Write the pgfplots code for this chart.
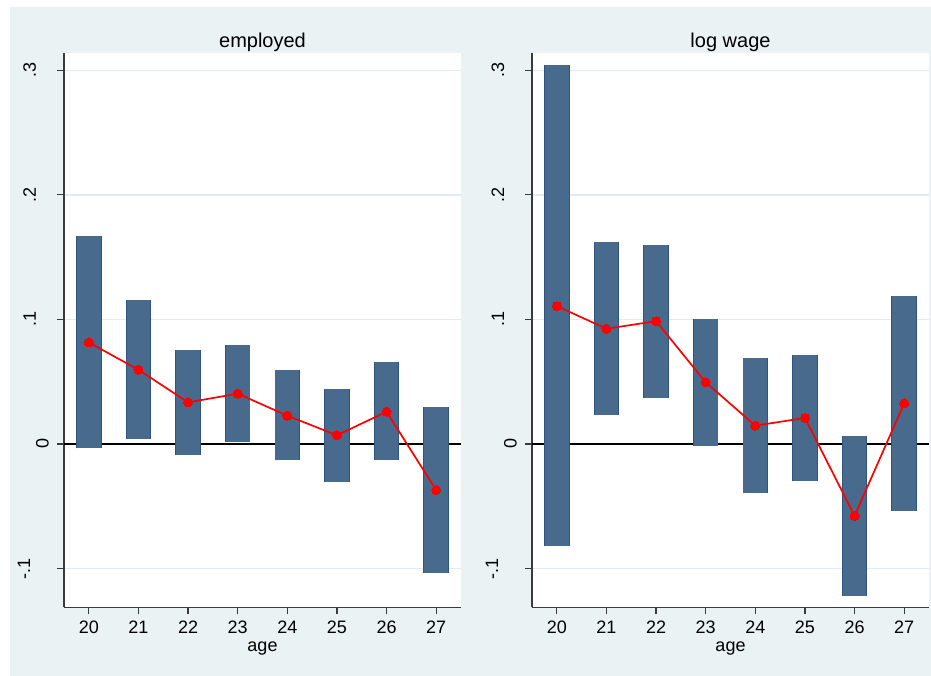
\documentclass[border=0pt]{standalone}
\usepackage{pgfplots}
\pgfplotsset{compat=1.18}
\usepackage{pgfplotstable}
\usepackage{fontspec}
\setmainfont{Liberation Sans}

\definecolor{bgc}{HTML}{EAF2F3}
\definecolor{gridc}{HTML}{E2EBF0}
\definecolor{barfill}{HTML}{476A8D}
\definecolor{baredge}{HTML}{2F5480}
\definecolor{axisc}{HTML}{3A3A3A}

% confidence bounds (lo, hi) and point estimate (b) by age
\pgfplotstableread{
age lo hi b
20 -0.0035 0.1668 0.0815
21 0.0037 0.1157 0.0596
22 -0.0091 0.0756 0.0334
23 0.0019 0.0794 0.0404
24 -0.0131 0.0591 0.0227
25 -0.0302 0.0444 0.0070
26 -0.0131 0.0658 0.0259
27 -0.1037 0.0297 -0.0371
}\employed

\pgfplotstableread{
age lo hi b
20 -0.0818 0.3045 0.1107
21 0.0233 0.1620 0.0925
22 0.0369 0.1601 0.0986
23 -0.0016 0.1000 0.0495
24 -0.0396 0.0690 0.0147
25 -0.0297 0.0711 0.0209
26 -0.1217 0.0067 -0.0577
27 -0.0537 0.1189 0.0326
}\logwage

\pgfplotsset{
  panel/.style={
    scale only axis, width=397pt, height=554.6pt,
    xmin=19.5, xmax=27.5, ymin=-0.1311, ymax=0.3141,
    axis x line*=bottom, axis y line*=left,
    axis line style={axisc, line width=1.2pt},
    xtick={20,...,27}, ytick={-0.1,0,0.1,0.2,0.3},
    yticklabels={\raisebox{6pt}{-.1},\raisebox{-12.5pt}{0},.1,.2,.3},
    tick align=outside, major tick length=7pt,
    major tick style={axisc, line width=1.2pt},
    ymajorgrids, grid style={gridc, line width=1.5pt},
    /pgf/number format/assume math mode=true,
    ticklabel style={font=\fontsize{18}{20}\selectfont, text=black},
    xticklabel style={anchor=base}, xticklabel shift=19pt,
    yticklabel style={rotate=90, anchor=base}, yticklabel shift=21pt,
    xlabel=age,
    xlabel style={font=\fontsize{18}{20}\selectfont, at={(axis description cs:0.5,0)}, anchor=base, yshift=-44.4pt},
    title style={font=\fontsize{20}{22}\selectfont, at={(axis description cs:0.5,1)}, anchor=base, yshift=-0.8pt},
  },
  bars/.style 2 args={draw=none, mark=none, forget plot,
    error bars/.cd, y dir=plus, y explicit, error mark=none,
    error bar style={line width=#1, color=#2}},
}

\newcommand{\panel}[1]{%
  \addplot[black, line width=1.3pt, forget plot] coordinates {(19.5,0) (27.5,0)};
  \addplot[bars={25.6pt}{baredge}]
    table[x=age, y=lo, y error expr=\thisrow{hi}-\thisrow{lo}] {#1};
  \addplot[bars={23.8pt}{barfill}]
    table[x=age, y=lo, y error expr=\thisrow{hi}-\thisrow{lo}] {#1};
  \addplot[red, line width=1.7pt, mark=*, mark size=4.5pt,
    mark options={solid, fill=red, draw=red, line width=0pt}]
    table[x=age, y=b] {#1};
}

\begin{document}
\begin{tikzpicture}
\path[use as bounding box] (0,0) rectangle (931pt,676pt);
\fill[white] (0,0) rectangle (931pt,676pt);
\fill[bgc] (10pt,0) rectangle (931pt,669pt);

\begin{axis}[panel, at={(64pt,68.7pt)}, anchor=south west, title=employed,
  axis background/.style={fill=white}]
  \panel{\employed}
\end{axis}

\begin{axis}[panel, at={(532pt,68.7pt)}, anchor=south west, title={log wage},
  axis background/.style={fill=white}]
  \panel{\logwage}
\end{axis}
\end{tikzpicture}
\end{document}
